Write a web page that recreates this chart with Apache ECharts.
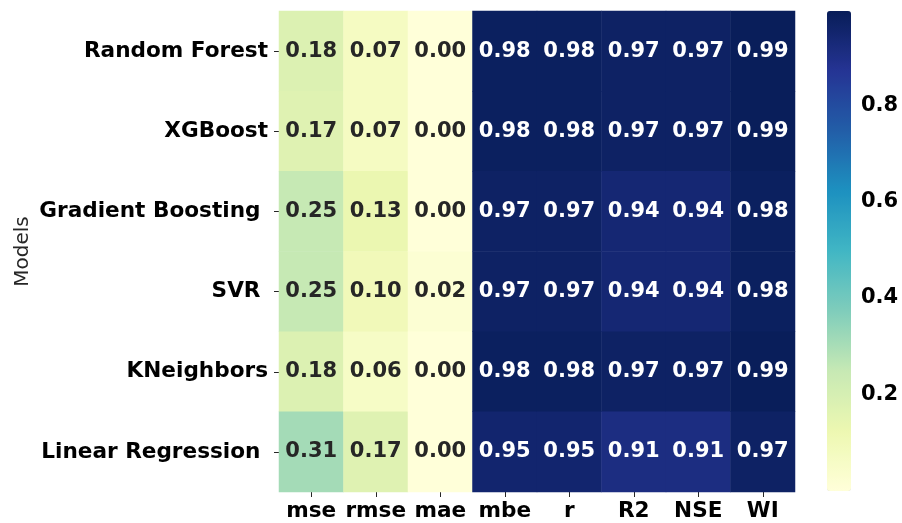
<!DOCTYPE html>
<html>
<head>
<meta charset="utf-8">
<script src="https://cdn.jsdelivr.net/npm/echarts@6/dist/echarts.min.js"></script>
<style>
  html, body { margin: 0; padding: 0; background: #fff; }
  #chart { width: 902px; height: 523px; }
</style>
</head>
<body>
<div id="chart"></div>
<script>
// Metric columns and model rows of the score table
const metrics = ['mse', 'rmse', 'mae', 'mbe', 'r', 'R2', 'NSE', 'WI'];
const models = ['Random Forest', 'XGBoost', 'Gradient Boosting ', 'SVR ', 'KNeighbors', 'Linear Regression '];

// Scores per metric, one entry per model (same order as models)
const mse  = [0.18, 0.17, 0.25, 0.25, 0.18, 0.31];
const rmse = [0.07, 0.07, 0.13, 0.10, 0.06, 0.17];
const mae  = [0.00, 0.00, 0.00, 0.02, 0.00, 0.00];
const mbe  = [0.98, 0.98, 0.97, 0.97, 0.98, 0.95];
const r    = [0.98, 0.98, 0.97, 0.97, 0.98, 0.95];
const r2   = [0.97, 0.97, 0.94, 0.94, 0.97, 0.91];
const nse  = [0.97, 0.97, 0.94, 0.94, 0.97, 0.91];
const wi   = [0.99, 0.99, 0.98, 0.98, 0.99, 0.97];

// Colour bar range and tick labels
const colorMin = 0.0;
const colorMax = 0.995;
const colorTicks = [0.2, 0.4, 0.6, 0.8];

const columns = [mse, rmse, mae, mbe, r, r2, nse, wi];

// YlGnBu palette
const ylGnBu = ['#ffffd9', '#edf8b1', '#c7e9b4', '#7fcdbb', '#41b6c4',
                '#1d91c0', '#225ea8', '#253494', '#081d58'];

const FONT = 'DejaVu Sans';
const FS_AXIS = 21.6;
const FS_CELL = 21;

const cells = [];
columns.forEach((col, xi) => {
  col.forEach((v, yi) => {
    const frac = (v - colorMin) / (colorMax - colorMin);
    cells.push({
      value: [xi, yi, v],
      label: { color: frac > 0.5 ? '#ffffff' : '#262626' }
    });
  });
});

const chart = echarts.init(document.getElementById('chart'), null, { renderer: 'canvas' });

chart.setOption({
  backgroundColor: '#ffffff',
  animation: false,
  grid: [
    { left: 279, top: 11, width: 516, height: 481, containLabel: false, outerBoundsMode: 'none' },
    { left: 827, top: 11, width: 24, height: 480, containLabel: false, outerBoundsMode: 'none' }
  ],
  xAxis: [
    {
      gridIndex: 0,
      type: 'category',
      data: metrics,
      position: 'bottom',
      axisLine: { show: false },
      axisTick: { show: true, length: 5, alignWithLabel: true, interval: 0, lineStyle: { color: '#262626' } },
      splitLine: { show: false },
      axisLabel: { interval: 0, fontFamily: FONT, fontWeight: 'bold', fontSize: FS_AXIS, color: '#000', margin: 8 }
    },
    {
      gridIndex: 1,
      type: 'value',
      show: false
    }
  ],
  yAxis: [
    {
      gridIndex: 0,
      type: 'category',
      data: models,
      inverse: true,
      axisLine: { show: false },
      axisTick: { show: true, length: 5, alignWithLabel: true, interval: 0, lineStyle: { color: '#262626' } },
      splitLine: { show: false },
      axisLabel: { interval: 0, fontFamily: FONT, fontWeight: 'bold', fontSize: FS_AXIS, color: '#000', margin: 11 },
      name: 'Models',
      nameLocation: 'middle',
      nameRotate: 90,
      nameGap: 246,
      nameMoveOverlap: false,
      nameTextStyle: { fontFamily: FONT, fontSize: 20, color: '#262626' }
    },
    {
      gridIndex: 1,
      type: 'value',
      min: colorMin,
      max: colorMax,
      position: 'right',
      axisLine: { show: false },
      splitLine: { show: false },
      axisTick: { show: true, length: 5, customValues: colorTicks, lineStyle: { color: '#262626' } },
      axisLabel: {
        fontFamily: FONT, fontWeight: 'bold', fontSize: FS_CELL, color: '#000', margin: 10,
        customValues: colorTicks,
        formatter: v => v.toFixed(1)
      }
    }
  ],
  visualMap: {
    type: 'continuous',
    seriesIndex: 0,
    min: colorMin,
    max: colorMax,
    calculable: false,
    realtime: false,
    orient: 'vertical',
    left: 827,
    top: 11,
    padding: 0,
    itemWidth: 24,
    itemHeight: 480,
    text: null,
    showLabel: false,
    hoverLink: false,
    inRange: { color: ylGnBu }
  },
  series: [
    {
      type: 'heatmap',
      xAxisIndex: 0,
      yAxisIndex: 0,
      data: cells,
      label: {
        show: true,
        fontFamily: FONT,
        fontWeight: 'bold',
        fontSize: FS_CELL,
        formatter: p => p.value[2].toFixed(2)
      },
      itemStyle: { borderWidth: 0 },
      emphasis: { disabled: true }
    }
  ]
});
</script>
</body>
</html>
